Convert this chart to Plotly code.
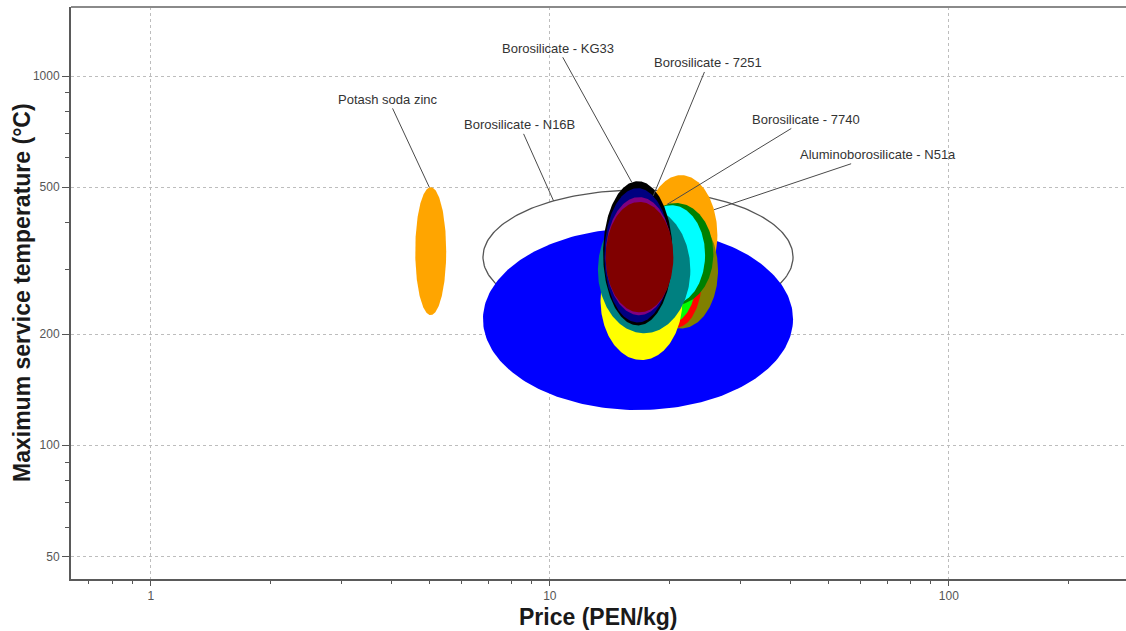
import numpy as np
import plotly.graph_objects as go

# ---- Material property ranges (drawn bottom to top) ----
names = [
    "Borosilicate - N16B", "Borosilicate glass", "Potash soda zinc",
    "Aluminoborosilicate - N51a", "Borosilicate - grade M", "Borosilicate - grade O",
    "Borosilicate - grade R", "Borosilicate - grade L", "Borosilicate - 7740",
    "Borosilicate - grade C", "Borosilicate - grade Y", "Borosilicate - grade T",
    "Borosilicate - KG33", "Borosilicate - 7251", "Borosilicate - grade P",
    "Borosilicate - grade D",
]
price_low = [6.80, 6.80, 4.60, 17.3, 17.3, 17.2, 17.8, 17.3, 16.7, 16.6, 13.4, 13.2, 13.6, 13.7, 13.8, 13.8]
price_high = [40.7, 40.7, 5.50, 26.3, 26.1, 26.4, 24.1, 23.4, 25.7, 24.5, 21.5, 22.5, 20.3, 20.1, 20.3, 20.4]
temp_low = [213, 124.5, 225, 255, 247, 207, 208, 214, 240, 240, 170, 201, 211, 215, 225, 229]
temp_high = [491, 387, 500, 539, 402, 428, 395, 395, 453, 447, 359, 442, 519, 497, 470, 456]

fill_colors = [
    "#FFFFFF", "#0000FF", "#FFA500", "#FFA500", "#FF00FF", "#808000",
    "#FF0000", "#00FF00", "#008000", "#00FFFF", "#FFFF00", "#008080",
    "#000000", "#000080", "#800080", "#800000",
]
outline_width = [1.3] + [0] * 15

# ---- Labels: text, target material, angle on its ellipse (deg), text offset (px) ----
labels = ["Potash soda zinc", "Borosilicate - N16B", "Borosilicate - KG33",
          "Borosilicate - 7251", "Borosilicate - 7740", "Aluminoborosilicate - N51a"]
label_target = [2, 0, 12, 13, 8, 3]
label_angle = [95, 123, 100, 62, 104, 25]
label_dx = [-41, -34, -74, 55, 139, 164]
label_dy = [-88, -76, -134, -133, -85, -55]

# ---- Axis ticks ----
x_major = [1, 10, 100]
x_minor = [0.7, 0.8, 0.9, 2, 3, 4, 5, 6, 7, 8, 9, 20, 30, 40, 50, 60, 70, 80, 90, 200]
y_major = [50, 100, 200, 500, 1000]
y_minor = [60, 70, 80, 90, 300, 400, 600, 700, 800, 900]

FONT = "Arial, Liberation Sans"


def ellipse_geometry(i):
    lx0, lx1 = np.log10(price_low[i]), np.log10(price_high[i])
    ly0, ly1 = np.log10(temp_low[i]), np.log10(temp_high[i])
    return (lx0 + lx1) / 2, (ly0 + ly1) / 2, (lx1 - lx0) / 2, (ly1 - ly0) / 2


fig = go.Figure()
t = np.linspace(0, 2 * np.pi, 241)
for i, name in enumerate(names):
    cx, cy, a, b = ellipse_geometry(i)
    fig.add_trace(go.Scatter(
        x=10 ** (cx + a * np.cos(t)),
        y=10 ** (cy + b * np.sin(t)),
        mode="lines",
        fill="toself",
        fillcolor=fill_colors[i],
        line=dict(color="#555555", width=outline_width[i]),
        name=name,
        hoverinfo="name",
        showlegend=False,
    ))

for text, idx, ang, dx, dy in zip(labels, label_target, label_angle, label_dx, label_dy):
    cx, cy, a, b = ellipse_geometry(idx)
    th = np.deg2rad(ang)
    fig.add_annotation(
        x=cx + a * np.cos(th), y=cy + b * np.sin(th), xref="x", yref="y",
        text=text, showarrow=True, arrowhead=0, arrowwidth=1, arrowcolor="#4a4a4a",
        ax=dx, ay=dy, standoff=0,
        font=dict(family=FONT, size=13, color="#333333"),
    )

# Axis titles
fig.add_annotation(
    text="<b>Price (PEN/kg)</b>", xref="paper", yref="paper", x=0.5, y=0,
    xanchor="center", yanchor="middle", yshift=-38, showarrow=False,
    font=dict(family=FONT, size=23, color="#1a1a1a"),
)
fig.add_annotation(
    text="<b>Maximum service temperature (°C)</b>", xref="paper", yref="paper",
    x=0, y=0.5, xanchor="center", yanchor="middle", xshift=-49, textangle=-90,
    showarrow=False,
    font=dict(family=FONT, size=23, color="#1a1a1a"),
)

# Top frame line
fig.add_shape(type="line", xref="paper", yref="paper", x0=0, x1=1, y0=1, y1=1,
              line=dict(color="#8a8a8a", width=2))

grid = dict(showgrid=True, gridcolor="#BDBDBD", gridwidth=1, griddash="3px,3px")
fig.update_xaxes(
    type="log", range=[np.log10(0.631), np.log10(278)],
    tickmode="array", tickvals=x_major, ticktext=[str(v) for v in x_major],
    ticks="outside", ticklen=5, tickcolor="#555555", tickwidth=1,
    showline=True, linecolor="#5a5a5a", linewidth=2, mirror=False,
    tickfont=dict(family=FONT, size=12, color="#555555"),
    minor=dict(tickvals=x_minor, ticks="outside", ticklen=3, tickcolor="#555555", showgrid=False),
    zeroline=False, **grid,
)
fig.update_yaxes(
    type="log", range=[np.log10(43.4), np.log10(1538)],
    tickmode="array", tickvals=y_major, ticktext=[str(v) for v in y_major],
    ticks="outside", ticklen=7, tickcolor="#555555", tickwidth=1,
    showline=True, linecolor="#5a5a5a", linewidth=2, mirror=False,
    tickfont=dict(family=FONT, size=12, color="#555555"),
    minor=dict(tickvals=y_minor, ticks="outside", ticklen=4, tickcolor="#555555", showgrid=False),
    zeroline=False, **grid,
)

fig.update_layout(
    width=1126, height=631,
    margin=dict(l=71, r=0, t=7, b=52),
    paper_bgcolor="white", plot_bgcolor="white",
    showlegend=False,
)

fig.write_html("out.html")
